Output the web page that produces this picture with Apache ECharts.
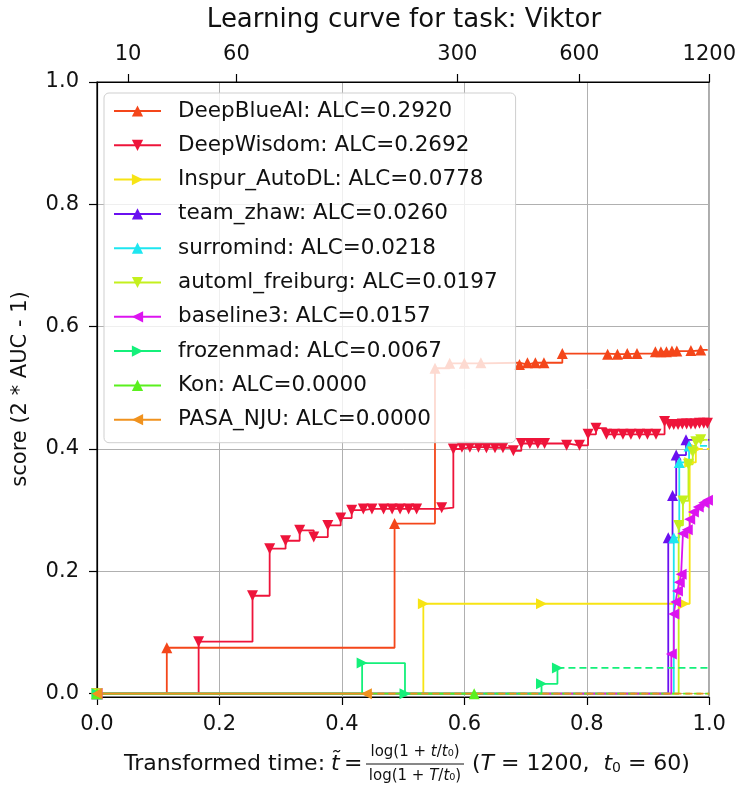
<!DOCTYPE html>
<html>
<head>
<meta charset="utf-8">
<script src="https://cdn.jsdelivr.net/npm/echarts@6/dist/echarts.min.js"></script>
<style>
html, body { margin: 0; padding: 0; background: #fff; }
#chart { width: 739px; height: 785px; }
</style>
</head>
<body>
<div id="chart"></div>
<script>
// learning curves: [transformed time, score]
const deepBlueAI = [[0, 0], [0.114, 0.075], [0.486, 0.278], [0.552, 0.532], [0.576, 0.540], [0.600, 0.540], [0.627, 0.541], [0.690, 0.538], [0.703, 0.541], [0.716, 0.541], [0.730, 0.541], [0.760, 0.556], [0.834, 0.555], [0.850, 0.555], [0.866, 0.556], [0.882, 0.556], [0.912, 0.559], [0.921, 0.559], [0.930, 0.559], [0.939, 0.560], [0.947, 0.560], [0.970, 0.561], [0.986, 0.562]]
const deepWisdom = [[0, 0], [0.166, 0.085], [0.254, 0.160], [0.282, 0.237], [0.308, 0.250], [0.331, 0.267], [0.354, 0.256], [0.377, 0.275], [0.398, 0.287], [0.416, 0.300], [0.435, 0.302], [0.449, 0.302], [0.468, 0.302], [0.482, 0.302], [0.495, 0.302], [0.509, 0.302], [0.522, 0.302], [0.563, 0.304], [0.582, 0.400], [0.596, 0.403], [0.609, 0.403], [0.623, 0.403], [0.636, 0.402], [0.650, 0.402], [0.663, 0.402], [0.680, 0.397], [0.693, 0.409], [0.707, 0.409], [0.720, 0.409], [0.731, 0.409], [0.767, 0.406], [0.788, 0.406], [0.802, 0.424], [0.815, 0.434], [0.832, 0.424], [0.845, 0.424], [0.859, 0.424], [0.872, 0.424], [0.886, 0.424], [0.899, 0.424], [0.913, 0.424], [0.927, 0.445], [0.935, 0.440], [0.942, 0.440], [0.949, 0.440], [0.956, 0.441], [0.963, 0.441], [0.970, 0.441], [0.977, 0.441], [0.984, 0.442], [0.991, 0.442], [0.997, 0.442]]
const inspurAutoDL = [[0, 0], [0.533, 0.147], [0.726, 0.147], [0.959, 0.147], [0.968, 0.378], [0.978, 0.400]]
const teamZhaw = [[0, 0], [0.933, 0.255], [0.940, 0.324], [0.946, 0.390], [0.962, 0.415]]
const surromind = [[0, 0], [0.942, 0.255], [0.951, 0.378], [0.967, 0.405]]
const automlFreiburg = [[0, 0], [0.950, 0.275], [0.957, 0.315], [0.966, 0.375], [0.973, 0.395], [0.978, 0.412], [0.986, 0.415]]
const baseline3 = [[0, 0], [0.938, 0.065], [0.942, 0.130], [0.945, 0.150], [0.948, 0.168], [0.951, 0.182], [0.954, 0.195], [0.957, 0.262], [0.964, 0.268], [0.968, 0.285], [0.974, 0.297], [0.982, 0.305], [0.991, 0.312], [0.997, 0.316]]
const frozenmad = [[0, 0], [0.433, 0.050], [0.503, 0], [0.726, 0.016], [0.752, 0.042]]
const kon = [[0, 0], [0.616, 0]]
const pasaNju = [[0, 0], [0.440, 0]]

const teamNames = ['DeepBlueAI', 'DeepWisdom', 'Inspur_AutoDL', 'team_zhaw', 'surromind', 'automl_freiburg', 'baseline3', 'frozenmad', 'Kon', 'PASA_NJU']
const alcValues = ['0.2920', '0.2692', '0.0778', '0.0260', '0.0218', '0.0197', '0.0157', '0.0067', '0.0000', '0.0000']
const curves = [deepBlueAI, deepWisdom, inspurAutoDL, teamZhaw, surromind, automlFreiburg, baseline3, frozenmad, kon, pasaNju]

// axis ticks
const yTicks = [0, 0.2, 0.4, 0.6, 0.8, 1.0]
const topTimes = [10, 60, 300, 600, 1200]
const T = 1200
const t0 = 60

// styles
const colors = ['#f4461a', '#ee143a', '#f7e414', '#6a10f0', '#1ee6f0', '#c4f01e', '#dc14f0', '#14f07a', '#5af01e', '#f0921e']
const rotations = [0, 180, -90, 0, 0, 180, 90, -90, 0, 90]
const FONT = 'DejaVu Sans'
const TXT = '#111'

const tTilde = t => Math.log(1 + t / t0) / Math.log(1 + T / t0)
const topPos = topTimes.map(tTilde)

const legendNames = teamNames.map((n, i) => n + ': ALC=' + alcValues[i])

const series = []
curves.forEach((pts, i) => {
  const color = colors[i]
  const last = pts[pts.length - 1]
  series.push({
    name: legendNames[i],
    type: 'line',
    step: 'end',
    data: pts,
    symbol: 'triangle',
    symbolSize: 11,
    symbolRotate: rotations[i],
    clip: true,
    lineStyle: { width: 1.8, color: color },
    itemStyle: { color: color }
  })
  // dashed tail from the last point to the end of the time axis
  series.push({
    name: legendNames[i] + ' tail',
    type: 'line',
    data: [last, [1, last[1]]],
    symbol: 'none',
    clip: true,
    lineStyle: { width: 1.8, color: color, type: [7, 4] }
  })
})

const myChart = echarts.init(document.getElementById('chart'))
myChart.setOption({
  animation: false,
  backgroundColor: '#fff',
  textStyle: { fontFamily: FONT },
  grid: {
    left: 97,
    right: 28,
    top: 82,
    bottom: 88,
    show: true,
    borderColor: '#000',
    borderWidth: 1.2,
    backgroundColor: 'transparent'
  },
  legend: {
    data: legendNames,
    orient: 'vertical',
    left: 104,
    top: 93,
    padding: [7, 18, 12, 9],
    itemWidth: 47,
    itemHeight: 14,
    itemGap: 12.3,
    backgroundColor: 'rgba(255,255,255,0.8)',
    borderColor: '#cfcfcf',
    borderWidth: 1,
    borderRadius: 5,
    textStyle: { fontFamily: FONT, fontSize: 21.5, color: TXT, lineHeight: 21, padding: [0, 0, 0, 12] }
  },
  xAxis: [
    {
      type: 'value',
      min: 0,
      max: 1,
      interval: 0.2,
      position: 'bottom',
      axisLine: { onZero: false, lineStyle: { color: '#000', width: 1.2 } },
      axisTick: { inside: false, length: 8, lineStyle: { color: '#000', width: 1.2 } },
      axisLabel: { fontFamily: FONT, fontSize: 21, color: TXT, margin: 17, formatter: v => v.toFixed(1) },
      splitLine: { show: true, lineStyle: { color: '#b0b0b0', width: 1 } }
    },
    {
      type: 'value',
      min: 0,
      max: 1,
      position: 'top',
      axisLine: { onZero: false, lineStyle: { color: '#000', width: 1.2 } },
      axisTick: { inside: false, length: 8, customValues: topPos, lineStyle: { color: '#000', width: 1.2 } },
      axisLabel: {
        fontFamily: FONT,
        fontSize: 21,
        color: TXT,
        margin: 17,
        customValues: topPos,
        formatter: v => {
          let best = 0
          topPos.forEach((p, k) => { if (Math.abs(p - v) < Math.abs(topPos[best] - v)) best = k })
          return String(topTimes[best])
        }
      },
      splitLine: { show: false }
    }
  ],
  yAxis: {
    type: 'value',
    min: -0.0055,
    max: 1,
    axisLine: { onZero: false, lineStyle: { color: '#000', width: 1.2 } },
    axisTick: { inside: false, length: 8, customValues: yTicks, lineStyle: { color: '#000', width: 1.2 } },
    axisLabel: { fontFamily: FONT, fontSize: 21, color: TXT, margin: 18, customValues: yTicks, formatter: v => v.toFixed(1) },
    splitLine: { show: true, lineStyle: { color: '#b0b0b0', width: 1 } }
  },
  graphic: [
    {
      type: 'text',
      x: 404,
      y: 20,
      style: { text: 'Learning curve for task: Viktor', fontFamily: FONT, fontSize: 26, fill: TXT, align: 'center', verticalAlign: 'middle' }
    },
    {
      type: 'text',
      x: 21,
      y: 389,
      rotation: Math.PI / 2,
      style: { text: 'score (2 * AUC - 1)', fontFamily: FONT, fontSize: 21, fill: TXT, align: 'center', verticalAlign: 'middle' }
    },
    {
      type: 'text',
      x: 124,
      y: 764,
      style: { text: 'Transformed time:', fontFamily: FONT, fontSize: 22, fill: TXT, align: 'left', verticalAlign: 'middle' }
    },
    {
      type: 'text',
      x: 331,
      y: 764,
      style: { text: 't\u0303', fontFamily: FONT, fontStyle: 'italic', fontSize: 22, fill: TXT, align: 'left', verticalAlign: 'middle' }
    },
    {
      type: 'text',
      x: 344,
      y: 764,
      style: { text: '=', fontFamily: FONT, fontSize: 22, fill: TXT, align: 'left', verticalAlign: 'middle' }
    },
    {
      type: 'text',
      x: 415,
      y: 752,
      style: {
        text: '{n|log(1 + }{i|t}{n|/}{i|t}{n|\u2080)}',
        fontFamily: FONT,
        fontSize: 15,
        fill: TXT,
        align: 'center',
        verticalAlign: 'middle',
        rich: { n: { fontFamily: FONT, fontSize: 15, fill: TXT }, i: { fontFamily: FONT, fontSize: 15, fontStyle: 'italic', fill: TXT } }
      }
    },
    {
      type: 'line',
      shape: { x1: 366, y1: 764, x2: 464, y2: 764 },
      style: { stroke: TXT, lineWidth: 1 }
    },
    {
      type: 'text',
      x: 415,
      y: 776,
      style: {
        text: '{n|log(1 + }{i|T}{n|/}{i|t}{n|\u2080)}',
        fontFamily: FONT,
        fontSize: 15,
        fill: TXT,
        align: 'center',
        verticalAlign: 'middle',
        rich: { n: { fontFamily: FONT, fontSize: 15, fill: TXT }, i: { fontFamily: FONT, fontSize: 15, fontStyle: 'italic', fill: TXT } }
      }
    },
    {
      type: 'text',
      x: 472,
      y: 764,
      style: {
        text: '{n|(}{i|T}{n| = 1200,  }{i|t}{s|0}{n| = 60)}',
        fontFamily: FONT,
        fontSize: 22,
        fill: TXT,
        align: 'left',
        verticalAlign: 'middle',
        rich: {
          n: { fontFamily: FONT, fontSize: 22, fill: TXT },
          i: { fontFamily: FONT, fontSize: 22, fontStyle: 'italic', fill: TXT },
          s: { fontFamily: FONT, fontSize: 14, fill: TXT, padding: [8, 0, 0, 0] }
        }
      }
    }
  ],
  series: series
})
window.addEventListener('resize', () => myChart.resize())
</script>
</body>
</html>
